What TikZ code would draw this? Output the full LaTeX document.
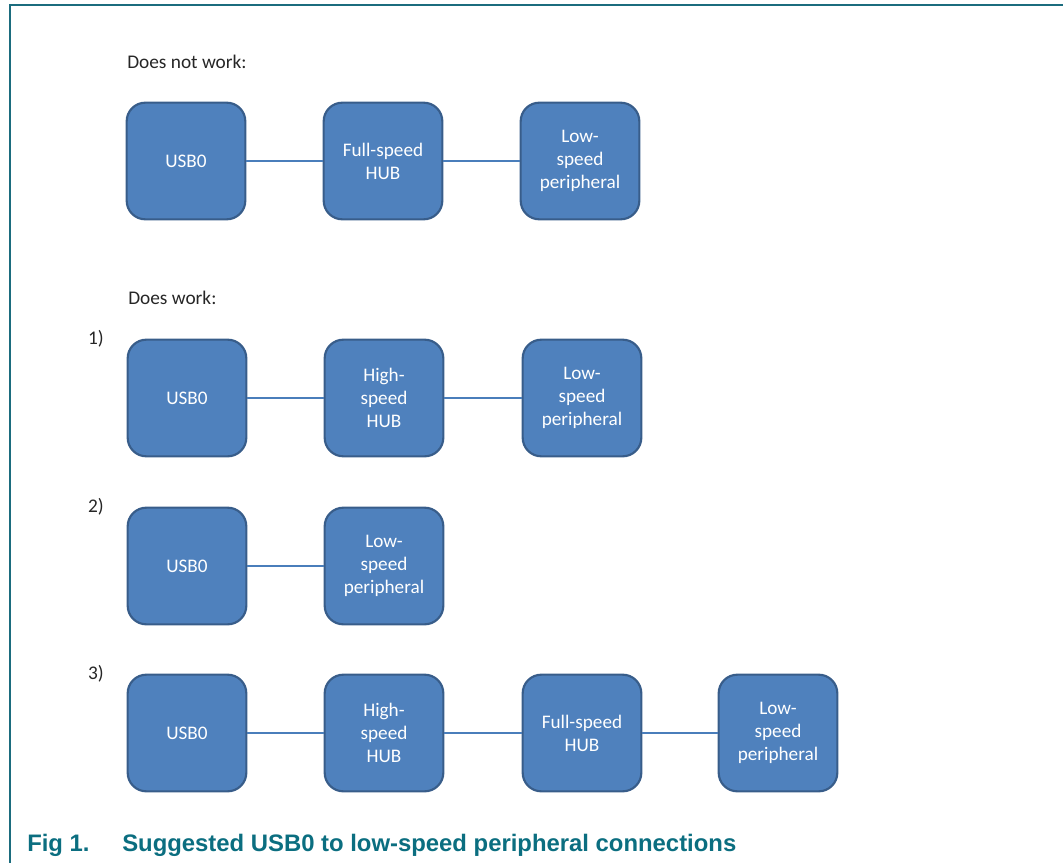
\documentclass[tikz,border=0pt]{standalone}
\usepackage{fontspec}
\setmainfont{Carlito}
\newfontfamily\capfont{Liberation Sans}
\definecolor{boxfill}{HTML}{4F81BD}
\definecolor{boxline}{HTML}{385D8A}
\definecolor{wire}{HTML}{4A7EBB}
\definecolor{frame}{HTML}{1B6C7E}
\definecolor{captxt}{HTML}{0B6E80}
\definecolor{labtxt}{HTML}{262626}
\tikzset{
  blk/.style={draw=boxline, line width=1.6pt, fill=boxfill, rounded corners=14pt,
    minimum width=89pt, minimum height=87.5pt, text=white, align=center,
    font=\fontsize{14.4}{17.25}\selectfont, inner sep=0pt},
  wireline/.style={draw=wire, line width=0.8pt},
  lab/.style={text=labtxt, font=\fontsize{14.5}{17}\selectfont, inner sep=0pt},
  captext/.style={text=captxt, font=\capfont\bfseries\fontsize{17.9}{21}\selectfont, inner sep=0pt}
}
\begin{document}
\begin{tikzpicture}[x=0.75pt,y=-0.75pt]
\useasboundingbox (0,0) rectangle (1063,863);
\draw[frame, line width=1.5pt] (1063,5) -- (10,5) -- (10,863);
% row 0
\node[lab, anchor=west] (t0) at (127,62) {Does not work:};
\node[blk] (a1) at (186,161) {USB0};
\node[blk] (a2) at (383,161) {Full-speed\\HUB};
\node[blk] (a3) at (580,161) {Low-\\speed\\peripheral};
\draw[wireline] (a1) -- (a2);
\draw[wireline] (a2) -- (a3);
% row 1
\node[lab, anchor=west] (t1) at (128,298) {Does work:};
\node[lab] (n1) at (96,339) {1)};
\node[blk] (b1) at (187,398) {USB0};
\node[blk] (b2) at (384,398) {High-\\speed\\HUB};
\node[blk] (b3) at (582,398) {Low-\\speed\\peripheral};
\draw[wireline] (b1) -- (b2);
\draw[wireline] (b2) -- (b3);
% row 2
\node[lab] (n2) at (96,507) {2)};
\node[blk] (c1) at (187,566) {USB0};
\node[blk] (c2) at (384,566) {Low-\\speed\\peripheral};
\draw[wireline] (c1) -- (c2);
% row 3
\node[lab] (n3) at (96,674) {3)};
\node[blk] (d1) at (187,733) {USB0};
\node[blk] (d2) at (384,733) {High-\\speed\\HUB};
\node[blk] (d3) at (582,733) {Full-speed\\HUB};
\node[blk] (d4) at (778,733) {Low-\\speed\\peripheral};
\draw[wireline] (d1) -- (d2);
\draw[wireline] (d2) -- (d3);
\draw[wireline] (d3) -- (d4);
% caption
\node[captext, anchor=west] (f1) at (27,845) {Fig 1.};
\node[captext, anchor=west] (f2) at (122,845) {Suggested USB0 to low-speed peripheral connections};
\end{tikzpicture}
\end{document}
